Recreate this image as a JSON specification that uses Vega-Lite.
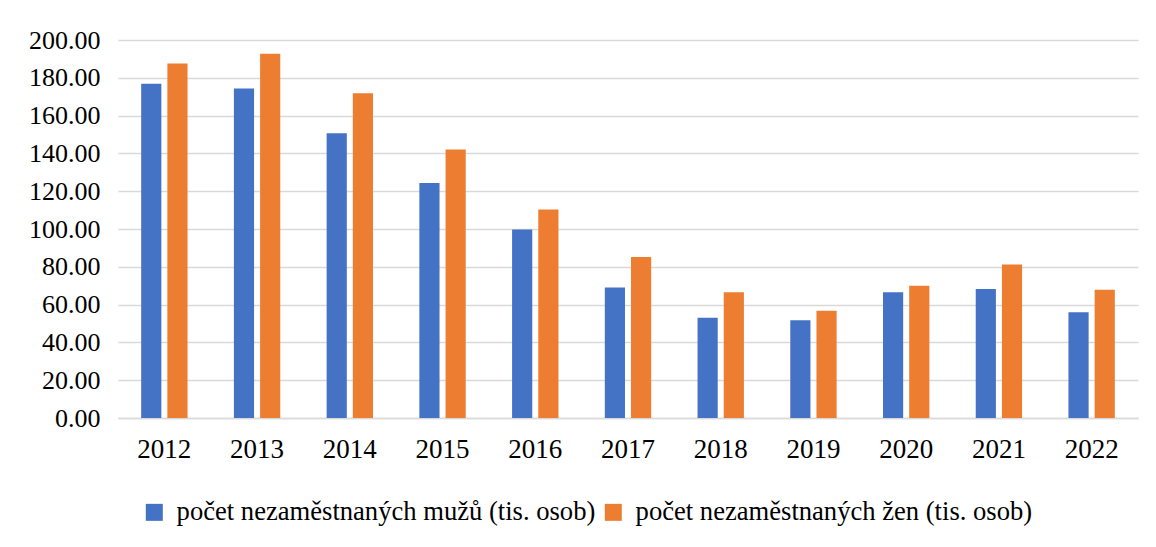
{
  "$schema": "https://vega.github.io/schema/vega-lite/v6.json",
  "autosize": {"type": "none"},
  "width": 1020,
  "height": 378,
  "padding": {"left": 118, "top": 40, "right": 18, "bottom": 129},
  "background": "white",
  "config": {
    "view": {"stroke": null},
    "font": "Liberation Serif"
  },
  "data": {
    "values": [
      {"rok": "2012", "serie": "počet nezaměstnaných mužů (tis. osob)", "hodnota": 176.8},
      {"rok": "2012", "serie": "počet nezaměstnaných žen (tis. osob)", "hodnota": 187.6},
      {"rok": "2013", "serie": "počet nezaměstnaných mužů (tis. osob)", "hodnota": 174.4},
      {"rok": "2013", "serie": "počet nezaměstnaných žen (tis. osob)", "hodnota": 192.7},
      {"rok": "2014", "serie": "počet nezaměstnaných mužů (tis. osob)", "hodnota": 150.6},
      {"rok": "2014", "serie": "počet nezaměstnaných žen (tis. osob)", "hodnota": 171.8},
      {"rok": "2015", "serie": "počet nezaměstnaných mužů (tis. osob)", "hodnota": 124.4},
      {"rok": "2015", "serie": "počet nezaměstnaných žen (tis. osob)", "hodnota": 142.1},
      {"rok": "2016", "serie": "počet nezaměstnaných mužů (tis. osob)", "hodnota": 99.7},
      {"rok": "2016", "serie": "počet nezaměstnaných žen (tis. osob)", "hodnota": 110.3},
      {"rok": "2017", "serie": "počet nezaměstnaných mužů (tis. osob)", "hodnota": 69.0},
      {"rok": "2017", "serie": "počet nezaměstnaných žen (tis. osob)", "hodnota": 85.2},
      {"rok": "2018", "serie": "počet nezaměstnaných mužů (tis. osob)", "hodnota": 53.1},
      {"rok": "2018", "serie": "počet nezaměstnaných žen (tis. osob)", "hodnota": 66.5},
      {"rok": "2019", "serie": "počet nezaměstnaných mužů (tis. osob)", "hodnota": 51.7},
      {"rok": "2019", "serie": "počet nezaměstnaných žen (tis. osob)", "hodnota": 56.8},
      {"rok": "2020", "serie": "počet nezaměstnaných mužů (tis. osob)", "hodnota": 66.5},
      {"rok": "2020", "serie": "počet nezaměstnaných žen (tis. osob)", "hodnota": 70.0},
      {"rok": "2021", "serie": "počet nezaměstnaných mužů (tis. osob)", "hodnota": 68.2},
      {"rok": "2021", "serie": "počet nezaměstnaných žen (tis. osob)", "hodnota": 81.2},
      {"rok": "2022", "serie": "počet nezaměstnaných mužů (tis. osob)", "hodnota": 55.9},
      {"rok": "2022", "serie": "počet nezaměstnaných žen (tis. osob)", "hodnota": 67.9}
    ]
  },
  "mark": {"type": "bar"},
  "encoding": {
    "x": {
      "field": "rok",
      "type": "nominal",
      "scale": {"paddingInner": 0.5, "paddingOuter": 0.25},
      "axis": {
        "title": null,
        "labelAngle": 0,
        "labelFont": "Liberation Serif",
        "labelFontSize": 27,
        "labelColor": "#000000",
        "labelPadding": 18,
        "ticks": false,
        "domainColor": "#d9d9d9",
        "domainWidth": 1.5
      }
    },
    "xOffset": {
      "field": "serie",
      "type": "nominal",
      "scale": {"paddingInner": 0.23}
    },
    "y": {
      "field": "hodnota",
      "type": "quantitative",
      "scale": {"domain": [0, 200], "nice": false},
      "axis": {
        "title": null,
        "values": [0, 20, 40, 60, 80, 100, 120, 140, 160, 180, 200],
        "format": ".2f",
        "labelFont": "Liberation Serif",
        "labelFontSize": 26,
        "labelColor": "#000000",
        "labelPadding": 18,
        "ticks": false,
        "domain": false,
        "gridColor": "#d9d9d9",
        "gridWidth": 1.5
      }
    },
    "color": {
      "field": "serie",
      "type": "nominal",
      "scale": {
        "domain": ["počet nezaměstnaných mužů (tis. osob)", "počet nezaměstnaných žen (tis. osob)"],
        "range": ["#4472c4", "#ed7d31"]
      },
      "legend": {
        "title": null,
        "orient": "none",
        "direction": "horizontal",
        "legendX": 23,
        "legendY": 459,
        "symbolType": "square",
        "symbolSize": 289,
        "symbolStrokeWidth": 0,
        "symbolOpacity": 1,
        "labelFont": "Liberation Serif",
        "labelFontSize": 26.6,
        "labelColor": "#000000",
        "labelOffset": 9,
        "labelLimit": 700,
        "columnPadding": 4
      }
    }
  }
}
